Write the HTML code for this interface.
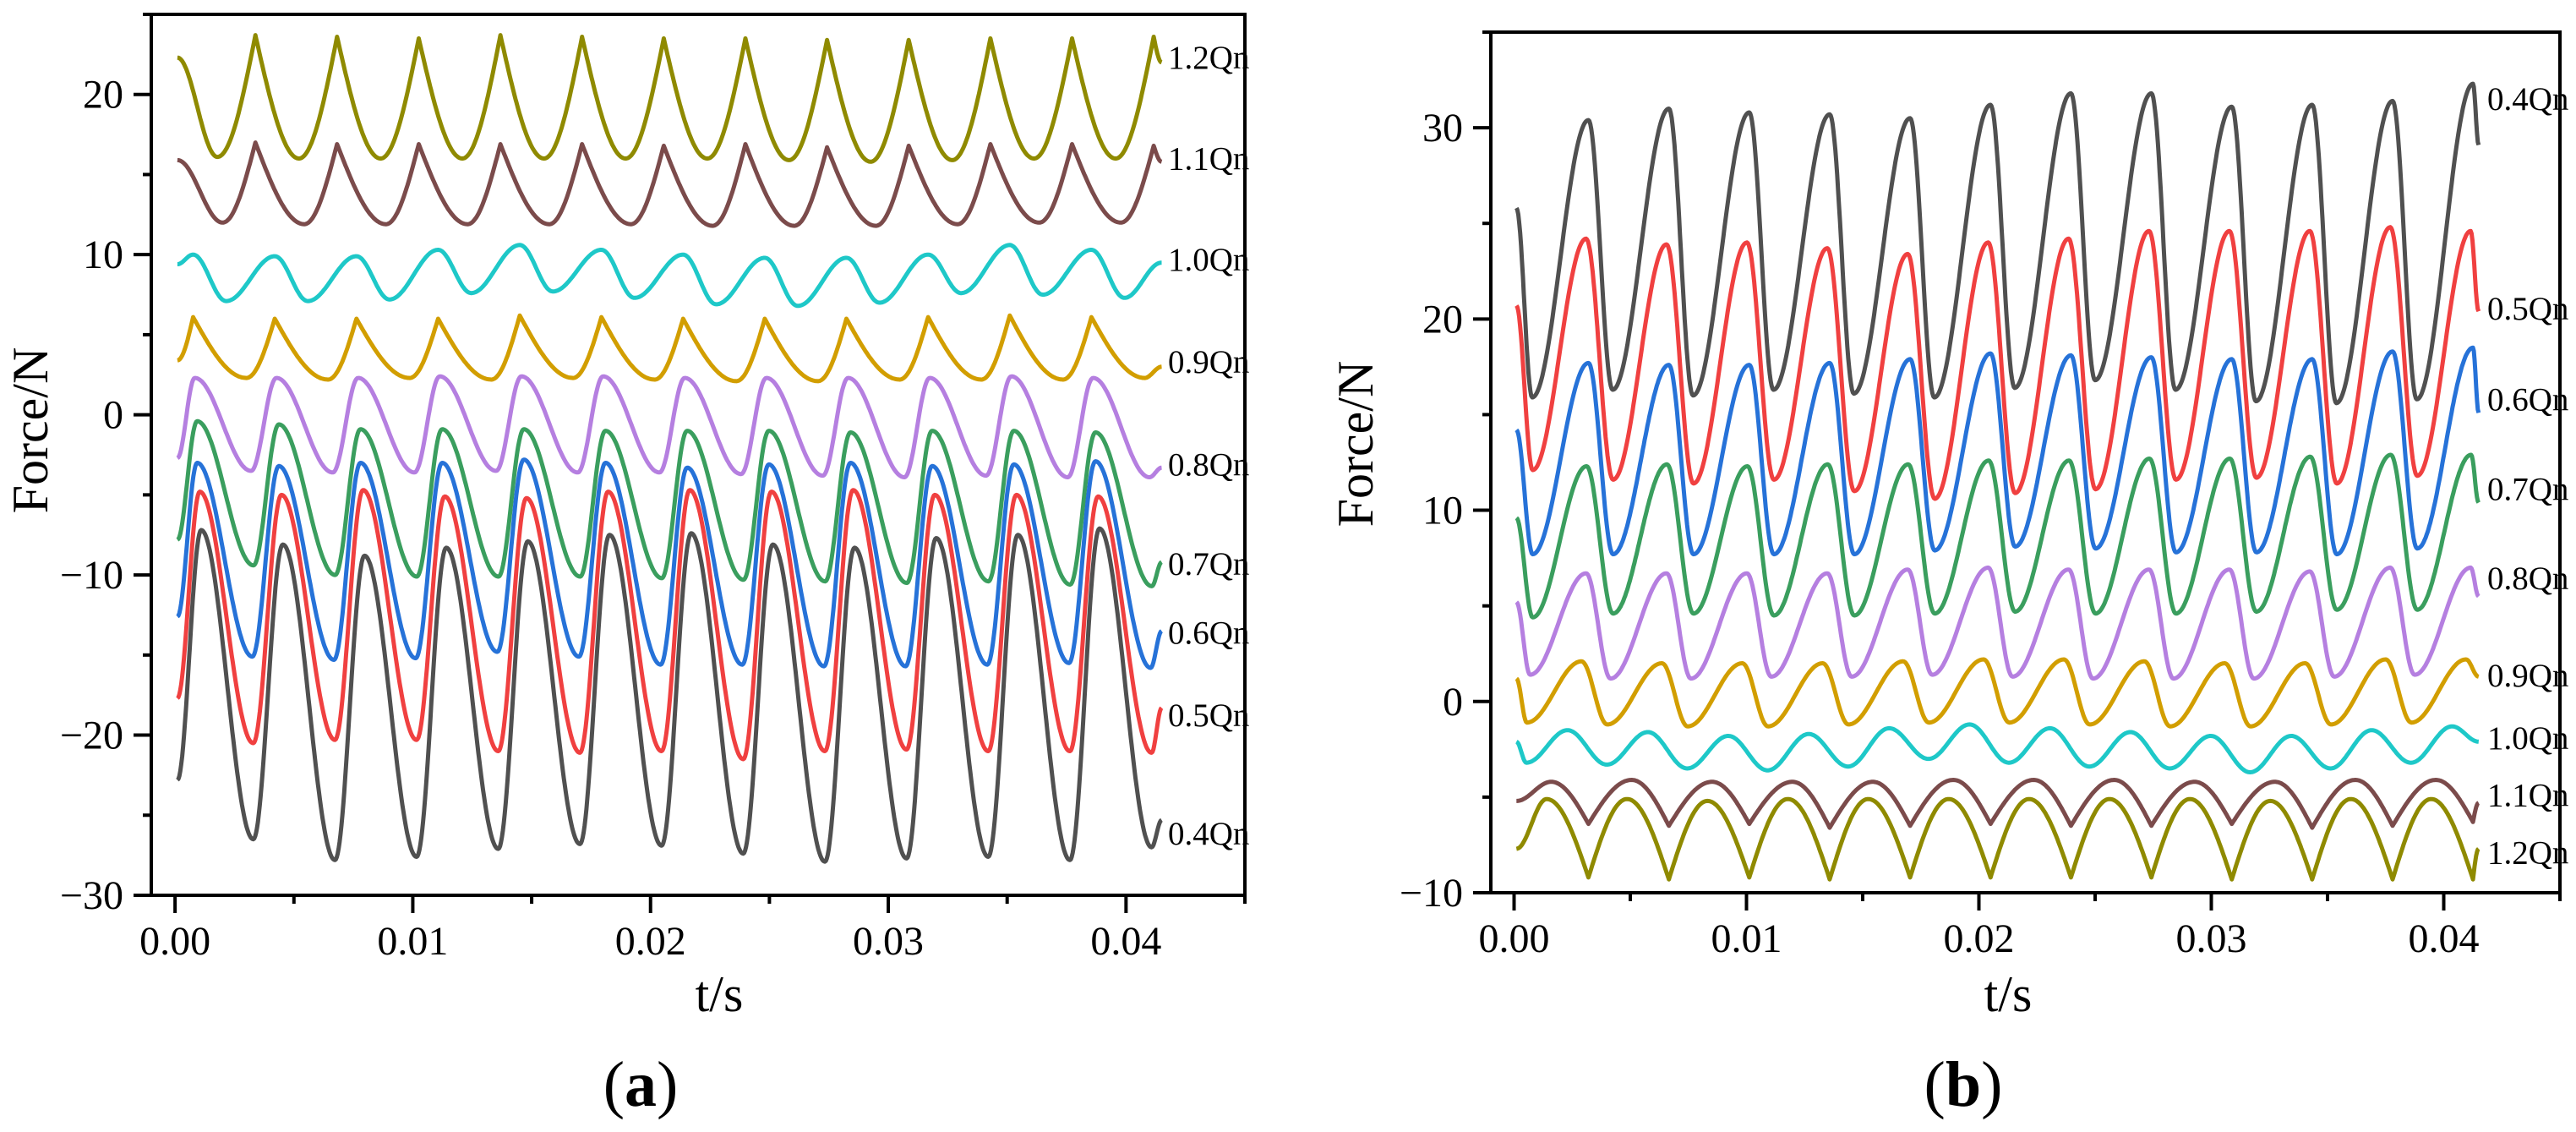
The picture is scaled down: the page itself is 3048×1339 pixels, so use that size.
<!DOCTYPE html>
<html><head><meta charset="utf-8"><style>
html,body{margin:0;padding:0;background:#fff}
svg{display:block}
text{font-family:"Liberation Serif",serif;fill:#000}
</style></head><body>
<svg id="fig" width="3048" height="1339" viewBox="0 0 3048 1339" xmlns="http://www.w3.org/2000/svg">
<g id="chartA"></g>
<g id="chartB"></g>
<text x="758" y="1308" font-size="76" text-anchor="middle">(<tspan font-weight="bold">a</tspan>)</text>
<text x="2323" y="1308" font-size="76" text-anchor="middle">(<tspan font-weight="bold">b</tspan>)</text>
</svg>
<script>
// ---------- shared ----------
const xTicks = [0, 0.01, 0.02, 0.03, 0.04];
const xTickLabels = ["0.00", "0.01", "0.02", "0.03", "0.04"];
const seriesNames = ["1.2Qn","1.1Qn","1.0Qn","0.9Qn","0.8Qn","0.7Qn","0.6Qn","0.5Qn","0.4Qn"];
const seriesColors = ["#8f8a00","#7b4b4b","#1ec8c8","#d29e00","#b57fe0","#3a9e5e","#2672d8","#f04040","#505050"];

// ---------- chart (a) data ----------
const aYTicks = [-30,-20,-10,0,10,20];
const aYTickLabels = ["\u221230","\u221220","\u221210","0","10","20"];
const aPeriod = 0.003435;
const aStart = [22.3,15.9,9.4,3.4,-2.7,-7.8,-12.6,-17.7,-22.8];
const aEnd = [22.0,15.8,9.5,3.0,-3.3,-9.2,-13.5,-18.3,-25.3];
const aPeakT0 = [0.00338,0.00338,0.00076,0.00076,0.00083,0.00093,0.00093,0.00104,0.0011];
const aTroughT0 = [0.00178,0.0020,0.00215,0.0030,0.0032,0.0033,0.00325,0.00329,0.00329];
const aCusp = ["peak","peak","none","peak","none","none","none","none","none"];
const aPeaks = [
 [23.7,23.6,23.5,23.7,23.6,23.5,23.5,23.4,23.4,23.5,23.5,23.6],
 [17.0,16.9,16.9,16.9,16.9,16.8,16.9,16.7,16.8,16.9,16.9,16.8],
 [10.0,9.9,9.9,10.3,10.6,10.3,10.0,9.8,9.8,10.0,10.6,10.3],
 [6.1,6.0,6.0,6.0,6.2,6.1,6.0,6.0,6.0,6.1,6.2,6.1],
 [2.3,2.3,2.3,2.4,2.4,2.4,2.3,2.3,2.3,2.3,2.4,2.3],
 [-0.4,-0.6,-0.9,-0.9,-0.9,-1.0,-1.0,-1.0,-1.1,-1.0,-1.0,-1.1],
 [-3.0,-3.2,-3.0,-3.0,-2.8,-3.0,-3.3,-3.1,-3.0,-3.2,-3.1,-2.9],
 [-4.8,-5.0,-4.7,-5.1,-5.2,-4.8,-4.7,-4.8,-4.7,-5.0,-5.0,-5.1],
 [-7.2,-8.1,-8.8,-8.3,-7.9,-7.5,-7.4,-8.1,-8.3,-7.7,-7.5,-7.1]
];
const aTroughs = [
 [16.1,16.0,16.0,16.0,16.0,16.0,16.0,15.9,15.8,15.9,16.0,16.0],
 [12.0,11.9,11.9,11.9,11.9,11.9,11.8,11.8,11.8,11.9,12.0,12.0],
 [7.1,7.1,7.2,7.6,7.7,7.3,6.9,6.8,7.0,7.6,7.5,7.3],
 [2.3,2.2,2.3,2.2,2.3,2.2,2.1,2.1,2.2,2.2,2.2,2.3],
 [-3.5,-3.6,-3.6,-3.5,-3.6,-3.6,-3.7,-3.8,-3.9,-3.8,-3.9,-3.9],
 [-9.4,-10.0,-10.1,-10.1,-10.1,-10.2,-10.3,-10.4,-10.5,-10.4,-10.6,-10.7],
 [-15.1,-15.3,-15.2,-14.8,-15.1,-15.6,-15.6,-15.7,-15.7,-15.6,-15.5,-15.8],
 [-20.5,-20.3,-20.3,-21.0,-21.1,-21.0,-21.5,-21.0,-20.9,-21.0,-21.0,-21.1],
 [-26.5,-27.8,-27.6,-27.1,-26.8,-26.9,-27.4,-27.9,-27.7,-27.6,-27.8,-27.0]
];
const aLabelValues = [22.3,16.0,9.7,3.3,-3.1,-9.3,-13.6,-18.75,-26.15];

// ---------- chart (b) data ----------
const bYTicks = [-10,0,10,20,30];
const bYTickLabels = ["\u221210","0","10","20","30"];
const bPeriod = 0.00346;
const bStart = [-7.7,-5.2,-2.1,1.2,5.2,9.6,14.2,20.7,25.8];
const bEnd = [-7.7,-5.3,-2.1,1.3,5.5,10.4,15.1,20.4,29.1];
const bPeakT0 = [0.0014,0.0016,0.0023,0.0029,0.0031,0.00312,0.0032,0.0031,0.0032];
const bTroughT0 = [0.0032,0.0032,0.00053,0.00055,0.00069,0.0008,0.0008,0.0008,0.00078];
const bCusp = ["trough","trough","none","none","none","none","none","none","none"];
const bPeaks = [
 [-5.1,-5.1,-5.2,-5.1,-5.1,-5.1,-5.1,-5.1,-5.1,-5.2,-5.1,-5.1],
 [-4.2,-4.1,-4.2,-4.2,-4.2,-4.1,-4.1,-4.1,-4.2,-4.2,-4.1,-4.1],
 [-1.5,-1.6,-1.8,-1.7,-1.4,-1.2,-1.4,-1.6,-1.8,-1.8,-1.5,-1.3],
 [2.1,2.0,2.0,2.0,2.1,2.2,2.2,2.1,2.0,2.0,2.2,2.2],
 [6.7,6.7,6.7,6.7,6.9,7.0,6.9,6.9,6.9,6.8,7.0,7.0],
 [12.3,12.4,12.3,12.4,12.4,12.6,12.6,12.7,12.7,12.8,12.9,12.9],
 [17.7,17.6,17.6,17.7,17.9,18.2,18.1,18.0,17.9,17.9,18.3,18.5],
 [24.2,23.9,24.0,23.7,23.4,24.0,24.2,24.6,24.6,24.6,24.8,24.6],
 [30.4,31.0,30.8,30.7,30.5,31.2,31.8,31.8,31.1,31.2,31.4,32.3]
];
const bTroughs = [
 [-9.2,-9.3,-9.2,-9.3,-9.2,-9.2,-9.2,-9.2,-9.3,-9.3,-9.3,-9.3],
 [-6.4,-6.5,-6.4,-6.6,-6.5,-6.4,-6.5,-6.5,-6.4,-6.6,-6.5,-6.3],
 [-3.2,-3.3,-3.5,-3.6,-3.4,-3.0,-3.2,-3.4,-3.5,-3.7,-3.5,-3.2],
 [-1.1,-1.2,-1.3,-1.3,-1.2,-1.1,-1.1,-1.2,-1.3,-1.3,-1.2,-1.1],
 [1.4,1.2,1.2,1.3,1.3,1.4,1.3,1.2,1.2,1.2,1.3,1.4],
 [4.4,4.6,4.6,4.5,4.5,4.6,4.7,4.6,4.6,4.7,4.8,4.8],
 [7.7,7.7,7.7,7.7,7.7,7.9,8.1,8.0,7.8,7.8,7.7,8.0],
 [12.1,11.6,11.4,11.6,11.0,10.6,10.9,11.1,11.6,11.7,11.4,11.8],
 [15.9,16.3,16.0,16.3,16.1,15.9,16.4,16.8,16.3,15.7,15.6,15.8]
];
const bLabelValues = [-7.9,-4.9,-1.9,1.36,6.45,11.1,15.8,20.55,31.5];

// ---------- drawing ----------
const NS = "http://www.w3.org/2000/svg";
function mk(tag, attrs, parent){const e=document.createElementNS(NS,tag);for(const k in attrs)e.setAttribute(k,attrs[k]);parent.appendChild(e);return e;}

function buildPath(xs, ys, start, end, peaks, troughs, pT0, tT0, period, cusp){
  const T0 = 0.0001, T1 = 0.0415;
  let knots = [];
  for(let k=0;k<peaks.length;k++){const t=pT0+k*period; if(t>T0&&t<T1) knots.push([t,peaks[k],"p"]);}
  for(let k=0;k<troughs.length;k++){const t=tT0+k*period; if(t>T0&&t<T1) knots.push([t,troughs[k],"t"]);}
  knots.sort((a,b)=>a[0]-b[0]);
  knots.unshift([T0,start,"s"]); knots.push([T1,end,"e"]);
  let d="";
  for(let i=0;i<knots.length-1;i++){
    const [ta,va,ka]=knots[i],[tb,vb,kb]=knots[i+1];
    const n=Math.max(4,Math.ceil((tb-ta)/0.00004));
    for(let j=(i===0?0:1);j<=n;j++){
      const u=j/n; let f;
      const toCusp=(cusp==="peak"&&kb==="p")||(cusp==="trough"&&kb==="t");
      const fromCusp=(cusp==="peak"&&ka==="p")||(cusp==="trough"&&ka==="t");
      if(toCusp) f=1-Math.cos(Math.PI*u/2);
      else if(fromCusp) f=Math.sin(Math.PI*u/2);
      else f=(1-Math.cos(Math.PI*u))/2;
      const v=va+(vb-va)*f, t=ta+(tb-ta)*u;
      d+=(d?"L":"M")+xs(t).toFixed(1)+","+ys(v).toFixed(1);
    }
  }
  return d;
}

function drawChart(g, cfg){
  const {L,R,T,B,yMin,yMax,yTicks,yTickLabels,start,end,peaks,troughs,pT0,tT0,period,cusp,labelValues,labelX,yTitleX,yTitleY,xTitleX,id} = cfg;
  const xMin=-0.001,xMax=0.045;
  const xs=t=>L+(t-xMin)/(xMax-xMin)*(R-L);
  const ys=v=>B-(v-yMin)/(yMax-yMin)*(B-T);
  for(let s=0;s<seriesNames.length;s++){
    const p=mk("path",{d:buildPath(xs,ys,start[s],end[s],peaks[s],troughs[s],pT0[s],tT0[s],period,cusp[s]),fill:"none",stroke:seriesColors[s],"stroke-width":5,"stroke-linejoin":"round"},g);
    
    
    const lb=mk("text",{x:labelX,y:ys(labelValues[s])+13,"font-size":39},g);
    lb.textContent=seriesNames[s];
    
    
  }
  const fr=mk("rect",{x:L,y:T,width:R-L,height:B-T,fill:"none",stroke:"#000","stroke-width":4},g);
  
  
  for(let v=0;v<=0.0451;v+=0.005){
    const major=Math.round(v/0.005)%2===0;
    const tk=mk("line",{x1:xs(v),x2:xs(v),y1:B,y2:B+(major?21:10),stroke:"#000","stroke-width":4},g);
    
    
  }
  xTicks.forEach((v,i)=>{
    const t=mk("text",{x:xs(v),y:B+70,"font-size":48,"text-anchor":"middle"},g);
    t.textContent=xTickLabels[i];
    
    
  });
  for(let v=yMin;v<=yMax+0.01;v+=5){
    const major=(v%10===0);
    const tk=mk("line",{x1:L-(major?21:10),x2:L,y1:ys(v),y2:ys(v),stroke:"#000","stroke-width":4},g);
    
    
  }
  yTicks.forEach((v,i)=>{
    const t=mk("text",{x:L-33,y:ys(v)+16,"font-size":48,"text-anchor":"end"},g);
    t.textContent=yTickLabels[i];
    
    
  });
  const yt=mk("text",{x:yTitleX,y:yTitleY,"font-size":60,"text-anchor":"middle",transform:"rotate(-90 "+yTitleX+" "+yTitleY+")"},g);
  yt.textContent="Force/N";
  
  
  const xt=mk("text",{x:xTitleX,y:1196,"font-size":60,"text-anchor":"middle"},g);
  xt.textContent="t/s";
  
  
}

drawChart(document.getElementById("chartA"),{id:"a",L:179,R:1473,T:17,B:1059,yMin:-30,yMax:25,yTicks:aYTicks,yTickLabels:aYTickLabels,
  start:aStart,end:aEnd,peaks:aPeaks,troughs:aTroughs,pT0:aPeakT0,tT0:aTroughT0,period:aPeriod,cusp:aCusp,labelValues:aLabelValues,
  labelX:1382,yTitleX:56,yTitleY:509,xTitleX:851});
drawChart(document.getElementById("chartB"),{id:"b",L:1764,R:3029,T:38,B:1056,yMin:-10,yMax:35,yTicks:bYTicks,yTickLabels:bYTickLabels,
  start:bStart,end:bEnd,peaks:bPeaks,troughs:bTroughs,pT0:bPeakT0,tT0:bTroughT0,period:bPeriod,cusp:bCusp,labelValues:bLabelValues,
  labelX:2943,yTitleX:1624,yTitleY:525,xTitleX:2376});
</script>
</body></html>
